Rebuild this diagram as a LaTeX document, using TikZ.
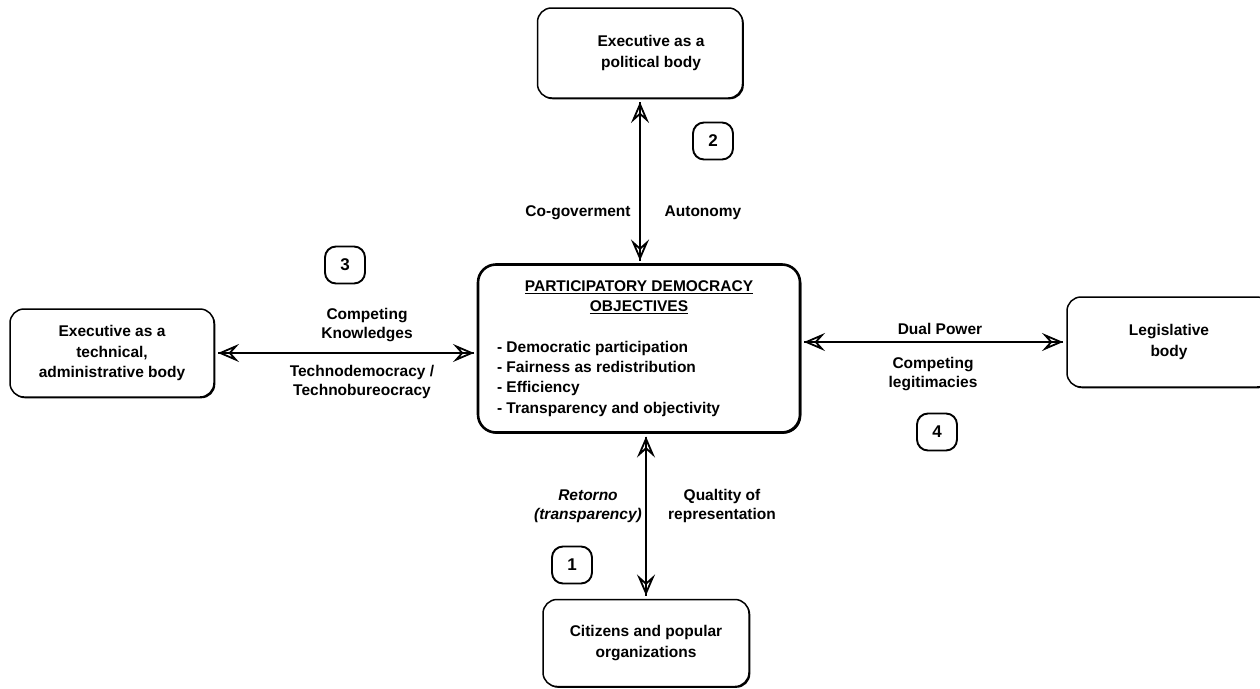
\documentclass[tikz,border=0pt]{standalone}
\usepackage{fontspec}
\setmainfont{Liberation Sans}
\usetikzlibrary{arrows.meta,shadows}
\newcommand{\myul}[1]{\leavevmode\setbox0\hbox{#1}\rlap{\rule[-2.6pt]{\wd0}{1.1pt}}\box0}
\begin{document}
\begin{tikzpicture}[x=1pt,y=-1pt,
  box/.style={draw, line width=1.5pt, rounded corners=14pt, fill=white, align=center,
    outer sep=4pt, inner sep=0pt,
    font=\fontsize{15.5}{20.5}\selectfont\bfseries,
    drop shadow={opacity=1, shadow xshift=1.3pt, shadow yshift=-1.3pt, fill=black}},
  num/.style={draw, line width=1.9pt, rounded corners=11pt, minimum width=40pt,
    minimum height=37pt, inner sep=0pt, font=\fontsize{17}{20}\selectfont\bfseries},
  lbl/.style={font=\fontsize{15.5}{19}\selectfont\bfseries, align=center, inner sep=0pt},
  conn/.style={line width=1.4pt, >={Stealth[open, length=21pt, width=18pt, inset=8pt, line width=1.8pt]}, <->},
  shaft/.style={line width=1.4pt}
]
\useasboundingbox (0,0) rectangle (1260,688);
\fill[white] (0,0) rectangle (1260,688);

% boxes
\node[box, minimum width=205pt, minimum height=90pt] (top) at (640,53)
  {\hspace*{22pt}Executive as a\\\hspace*{22pt}political body};
\node[box, minimum width=204pt, minimum height=88pt] (lft) at (112,353)
  {Executive as a\\technical,\\administrative body};
\node[box, minimum width=204pt, minimum height=90pt] (rgt) at (1169,342)
  {Legislative\\body};
\node[box, minimum width=206pt, minimum height=87pt] (bot) at (646,643)
  {Citizens and popular\\organizations};
\node[box, line width=2.6pt, rounded corners=18pt, minimum width=322pt, minimum height=168pt,
  text width=284pt, align=none] (ctr) at (639,348.5)
  {\baselineskip=20.3pt{\centering\myul{PARTICIPATORY DEMOCRACY}\\\myul{OBJECTIVES}\par}\vspace{20.3pt}%
   {\raggedright - Democratic participation\\- Fairness as redistribution\\- Efficiency\\- Transparency and objectivity\par}};

% connectors
\draw[shaft] (top.south) -- (top.south |- ctr.north);
\draw[conn] (top.south) -- (top.south |- ctr.north);
\draw[shaft] (ctr.south -| bot.north) -- (bot.north);
\draw[conn] (ctr.south -| bot.north) -- (bot.north);
\draw[shaft] (lft.east) -- (lft.east -| ctr.west);
\draw[conn] (lft.east) -- (lft.east -| ctr.west);
\draw[shaft] (ctr.east |- rgt.west) -- (rgt.west);
\draw[conn] (ctr.east |- rgt.west) -- (rgt.west);

% numbers
\node[num] (n2) at (713,141) {2};
\node[num] (n3) at (345,265) {3};
\node[num] (n4) at (937,432) {4};
\node[num] (n1) at (572,565) {1};

% labels
\node[lbl] (cogov) at (578,213) {Co-goverment};
\node[lbl] (auton) at (703,213) {Autonomy};
\node[lbl] (compk) at (367,325) {Competing\\Knowledges};
\node[lbl] (techno) at (362,382) {Technodemocracy /\\Technobureocracy};
\node[lbl] (dual) at (940,329) {Dual Power};
\node[lbl] (compl) at (933,374) {Competing\\legitimacies};
\node[lbl, font=\fontsize{15.5}{19}\selectfont\bfseries\itshape] (ret) at (588,506) {Retorno\\(transparency)};
\node[lbl] (qual) at (722,506) {Qualtity of\\representation};
\end{tikzpicture}
\end{document}
